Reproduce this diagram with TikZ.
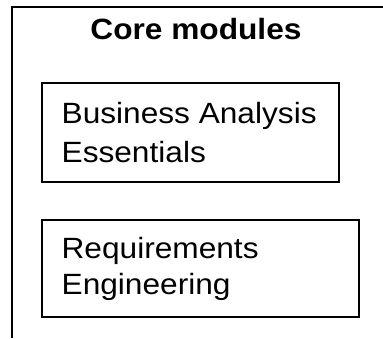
\documentclass[tikz,border=0pt]{standalone}
\usepackage{fontspec}
\setmainfont{Liberation Sans}[FakeStretch=1.08]
\usepackage{tikz}
\usetikzlibrary{calc}
\tikzset{
  modbox/.style={draw,line width=1.1pt,inner sep=0pt},
  modtext/.style={align=left,inner sep=0pt,font=\fontsize{29.3}{#1}\selectfont},
  modtext/.default=37,
  headtext/.style={inner sep=0pt,font=\bfseries\fontsize{29.3}{35}\selectfont}
}
\begin{document}
\begin{tikzpicture}[x=1pt,y=1pt]
\useasboundingbox (0,0) rectangle (383,338);
% open frame round the list
\draw[line width=1.1pt] (12,0) -- (12,331) -- (383,331);
\node[headtext,anchor=base] (head) at (196,298) {Core modules};
% module boxes
\node[modbox,minimum width=297pt,minimum height=99pt] (bae) at (190.5,205.5) {};
\node[modtext=38.4,anchor=west] (baetext) at ($(bae.west)+(20,0)$) {Business Analysis\\Essentials};
\node[modbox,minimum width=317pt,minimum height=97pt] (reng) at (200.5,69.5) {};
\node[modtext=36,anchor=west] (rengtext) at ($(reng.west)+(20,0)$) {Requirements\\Engineering};
\end{tikzpicture}
\end{document}
